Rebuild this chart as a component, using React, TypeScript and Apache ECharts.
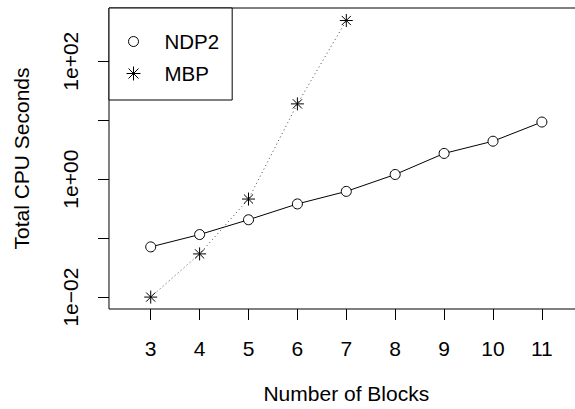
import React, { useEffect, useRef } from "react";
import * as echarts from "echarts";

const blocks = [3, 4, 5, 6, 7, 8, 9, 10, 11];
const ndp2 = [0.071, 0.115, 0.205, 0.38, 0.62, 1.2, 2.73, 4.4, 9.3];
const mbpBlocks = [3, 4, 5, 6, 7];
const mbp = [0.01, 0.054, 0.46, 18.9, 490];
const yTicks = [0.01, 0.1, 1, 10, 100];
const yLabels = [0.01, 1, 100];
const xLabel = "Number of Blocks";
const yLabel = "Total CPU Seconds";

const STAR = "path://M6.5,0L6.5,13M0,6.5L13,6.5M1.9,1.9L11.1,11.1M1.9,11.1L11.1,1.9";
const LEG_CIRCLE = "path://M0,0M14,14M12,7A5,5,0,1,1,2,7A5,5,0,1,1,12,7Z";
const LEG_STAR = "path://M0,0M14,14M7,0L7,14M0,7L14,7M2,2L12,12M2,12L12,2";

const fmt = (v: number) => {
  const e = Math.round(Math.log10(v));
  const s = e < 0 ? "\u2212" : "+";
  return "1e" + s + String(Math.abs(e)).padStart(2, "0");
};

const FONT = "Liberation Sans, Arial, sans-serif";

export default function App() {
  const ref = useRef<HTMLDivElement>(null);
  useEffect(() => {
    const chart = echarts.init(ref.current!, null, { renderer: "svg" });
    chart.setOption({
      animation: false,
      backgroundColor: "#fff",
      textStyle: { fontFamily: FONT, color: "#000" },
      grid: {
        left: 109,
        top: 8,
        right: 6.4,
        bottom: 98,
        show: true,
        borderColor: "#000",
        borderWidth: 1,
        backgroundColor: "transparent",
      },
      legend: {
        orient: "vertical",
        left: 109,
        top: 8,
        padding: [23, 13, 16, 17],
        itemGap: 11,
        itemWidth: 14,
        itemHeight: 14,
        borderColor: "#000",
        borderWidth: 1,
        backgroundColor: "#fff",
        textStyle: { fontSize: 20.5, fontFamily: FONT, color: "#000", padding: [0, 0, 0, 19] },
        data: [
          {
            name: "NDP2",
            icon: LEG_CIRCLE,
            itemStyle: { color: "#fff", borderColor: "#000", borderWidth: 1 },
            lineStyle: { width: 0, opacity: 0 },
          },
          {
            name: "MBP",
            icon: LEG_STAR,
            itemStyle: { color: "#000", borderColor: "#000", borderWidth: 1 },
            lineStyle: { width: 0, opacity: 0 },
          },
        ],
      },
      xAxis: {
        type: "value",
        min: 2.147,
        max: 11.853,
        name: xLabel,
        nameLocation: "middle",
        nameGap: 74,
        nameTextStyle: { fontSize: 21, fontFamily: FONT, color: "#000" },
        axisLine: { show: false, onZero: false },
        splitLine: { show: false },
        axisTick: {
          show: true,
          length: 11,
          customValues: blocks,
          lineStyle: { color: "#000", width: 1 },
        },
        axisLabel: {
          customValues: blocks,
          fontSize: 21,
          fontFamily: FONT,
          color: "#000",
          margin: 29,
        },
      },
      yAxis: {
        type: "log",
        logBase: 10,
        min: 0.00628,
        max: 799,
        name: yLabel,
        nameLocation: "middle",
        nameGap: 77,
        nameTextStyle: { fontSize: 21, fontFamily: FONT, color: "#000" },
        axisLine: { show: false, onZero: false },
        splitLine: { show: false },
        axisTick: {
          show: true,
          length: 11,
          customValues: yTicks,
          lineStyle: { color: "#000", width: 1 },
        },
        axisLabel: {
          customValues: yLabels,
          rotate: 90,
          fontSize: 21,
          fontFamily: FONT,
          color: "#000",
          margin: 28,
          formatter: (v: number) => fmt(v),
        },
      },
      series: [
        {
          name: "NDP2",
          type: "line",
          data: blocks.map((b, i) => [b, ndp2[i]]),
          symbol: "circle",
          symbolSize: 10,
          showAllSymbol: true,
          itemStyle: { color: "#fff", borderColor: "#000", borderWidth: 1 },
          lineStyle: { color: "#000", width: 1 },
          z: 3,
        },
        {
          name: "MBP",
          type: "line",
          data: mbpBlocks.map((b, i) => [b, mbp[i]]),
          symbol: STAR,
          symbolSize: 13,
          showAllSymbol: true,
          itemStyle: { color: "#000", borderColor: "#000", borderWidth: 1 },
          lineStyle: { color: "#444", width: 1, type: [1, 3] },
          z: 2,
        },
      ],
    });
    return () => chart.dispose();
  }, []);
  return (
    <div
      ref={ref}
      style={{ position: "fixed", left: 0, top: 0, width: 590, height: 409 }}
    />
  );
}
